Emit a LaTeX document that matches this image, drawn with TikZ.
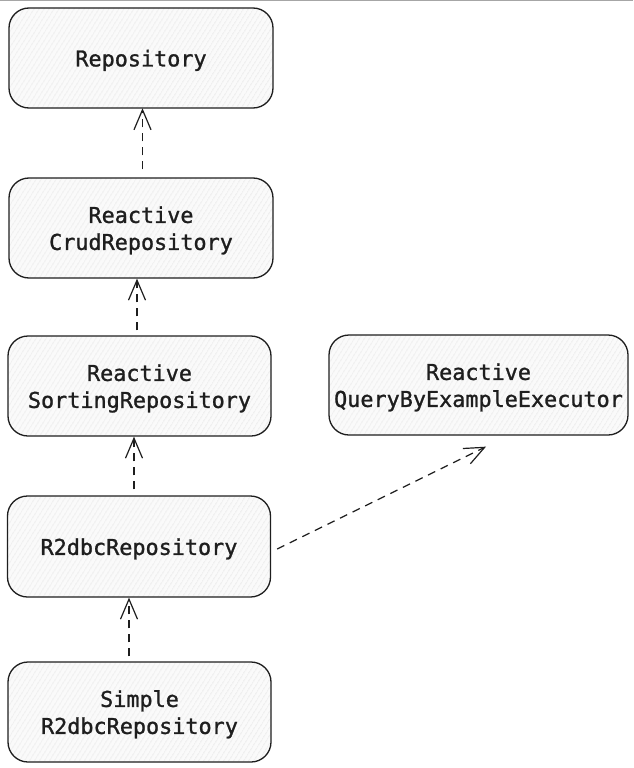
\documentclass[tikz,border=0pt]{standalone}
\usepackage{fontspec}
\newfontfamily\boxfont[FakeBold=1.2]{DejaVu Sans Mono}
\usetikzlibrary{arrows.meta,patterns.meta}
\definecolor{ink}{HTML}{1E1E1E}
\newcommand\boxtxt[1]{\raisebox{-3pt}[\height][\depth]{\begin{tabular}{@{}c@{}}#1\end{tabular}}}
\tikzset{
  box/.style={draw=ink, line width=1.3pt, rounded corners=20pt,
    preaction={fill=gray!4},
    pattern={Lines[angle=58,distance=4pt,line width=0.5pt]}, pattern color=gray!28,
    text=ink, font=\boxfont\fontsize{21.8}{27}\selectfont,
    inner sep=0pt},
  dep/.style={draw=ink, line width=1.2pt, dash pattern=on 8pt off 6pt,
    -{Straight Barb[length=20pt,width=17pt,line width=1.2pt]}}
}
\begin{document}
\begin{tikzpicture}[x=1pt,y=-1pt]
\useasboundingbox (0,0) rectangle (633,768);
\draw[gray!70, line width=1.2pt] (0,0.6) -- (633,0.6);
\node[box, minimum width=264pt, minimum height=100pt] (repo) at (141,58) {\boxtxt{Repository}};
\node[box, minimum width=264pt, minimum height=100pt] (crud) at (141,228) {\boxtxt{Reactive\\CrudRepository}};
\node[box, minimum width=263pt, minimum height=100pt] (sort) at (139.5,386) {\boxtxt{Reactive\\SortingRepository}};
\node[box, minimum width=299pt, minimum height=100pt] (qbe) at (478.5,385) {\boxtxt{Reactive\\QueryByExampleExecutor}};
\node[box, minimum width=263pt, minimum height=101pt] (r2) at (139,546.5) {\boxtxt{R2dbcRepository}};
\node[box, minimum width=263pt, minimum height=100pt] (simple) at (139.5,712) {\boxtxt{Simple\\R2dbcRepository}};
\draw[dep] ([shift={(1.5,-8)}]crud.north) -- ([xshift=1.5pt]repo.south);
\draw[dep] ([shift={(-2.5,-5)}]sort.north) -- ([xshift=-4pt]crud.south);
\draw[dep] ([shift={(-5,-6)}]r2.north) -- ([xshift=-5.5pt]sort.south);
\draw[dep] ([shift={(-10.5,-5)}]simple.north) -- ([xshift=-10pt]r2.south);
\draw[dep] ([shift={(6,2.5)}]r2.east) -- ([shift={(7.5,11)}]qbe.south);
\end{tikzpicture}
\end{document}
